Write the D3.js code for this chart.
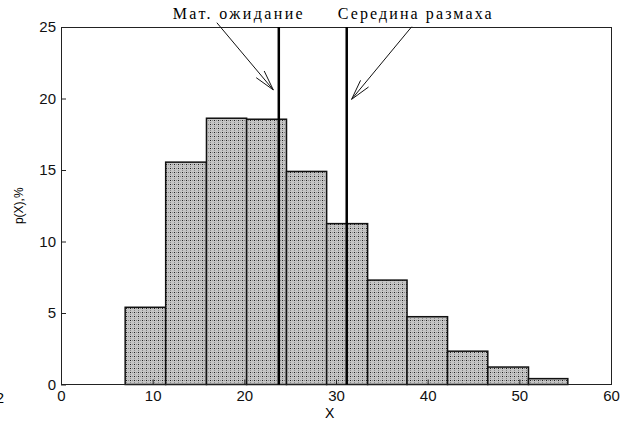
<!DOCTYPE html>
<html>
<head>
<meta charset="utf-8">
<script src="https://cdn.jsdelivr.net/npm/d3@7"></script>
<style>
  html, body { margin: 0; padding: 0; background: #fff; }
  svg { display: block; }
</style>
</head>
<body>
<div id="chart"></div>
<script>
// histogram bins (X values) and heights (p(X), %)
const binEdges = [7.0, 11.42, 15.87, 20.25, 24.6, 28.98, 33.45, 37.75, 42.17, 46.56, 51.0, 55.29]
const binValues = [5.4, 15.55, 18.62, 18.55, 14.9, 11.25, 7.3, 4.74, 2.33, 1.22, 0.41]

const xTicks = [0, 10, 20, 30, 40, 50, 60]
const yTicks = [0, 5, 10, 15, 20, 25]

// vertical marker lines
const markerNames = ["Мат. ожидание", "Середина размаха"]
const markerX = [23.76, 31.17]
// arrows: from (under the caption) to (near the line), in data units
const arrowFrom = [[17.0, 25.3], [38.26, 25.02]]
const arrowTo = [[23.16, 20.6], [31.7, 19.94]]

const width = 624, height = 423
const margin = ({top: 27, right: 13, bottom: 38.5, left: 61})

const svg = d3.select("#chart").append("svg")
    .attr("width", width).attr("height", height)

const x = d3.scaleLinear().domain([0, 60]).range([margin.left, width - margin.right])
const y = d3.scaleLinear().domain([0, 25]).range([height - margin.bottom, margin.top])

// dotted gray fill like the original
const defs = svg.append("defs")
const pat = defs.append("pattern")
    .attr("id", "dots").attr("patternUnits", "userSpaceOnUse")
    .attr("width", 4).attr("height", 4)
pat.append("rect").attr("width", 4).attr("height", 4).attr("fill", "#c4c4c4")
pat.append("rect").attr("x", 0).attr("y", 0).attr("width", 1).attr("height", 1).attr("fill", "#8a8a8a")
pat.append("rect").attr("x", 2).attr("y", 2).attr("width", 1).attr("height", 1).attr("fill", "#8a8a8a")
pat.append("rect").attr("x", 2).attr("y", 0).attr("width", 1).attr("height", 1).attr("fill", "#1e1e1e")

const bins = binValues.map((v, i) => ({x0: binEdges[i], x1: binEdges[i + 1], v}))

svg.append("g")
  .selectAll("rect")
  .data(bins)
  .join("rect")
    .attr("x", d => x(d.x0))
    .attr("y", d => y(d.v))
    .attr("width", d => x(d.x1) - x(d.x0))
    .attr("height", d => y(0) - y(d.v))
    .attr("fill", "url(#dots)")
    .attr("stroke", "#111")
    .attr("stroke-width", 1.5)

// frame
svg.append("rect")
    .attr("x", margin.left).attr("y", margin.top)
    .attr("width", x(60) - x(0)).attr("height", y(0) - y(25))
    .attr("fill", "none").attr("stroke", "#222").attr("stroke-width", 1)
    .attr("shape-rendering", "crispEdges")

// axes, ticks pointing inside
const xAxis = g => g
    .attr("transform", `translate(0,${y(0)})`)
    .call(d3.axisBottom(x).tickValues(xTicks).tickSize(-5).tickPadding(6))
    .call(g => g.select(".domain").remove())

const yAxis = g => g
    .attr("transform", `translate(${margin.left},0)`)
    .call(d3.axisLeft(y).tickValues(yTicks).tickSize(-5).tickPadding(5))
    .call(g => g.select(".domain").remove())

svg.append("g").call(xAxis)
svg.append("g").call(yAxis)

svg.selectAll(".tick text")
    .attr("font-family", "'Liberation Sans', Arial, sans-serif")
    .attr("font-size", 15)
    .attr("fill", "#111")
svg.selectAll(".tick line").attr("stroke", "#222")

// axis labels
svg.append("text")
    .attr("x", x(29.3)).attr("y", 418)
    .attr("text-anchor", "middle")
    .attr("font-family", "'Liberation Sans', Arial, sans-serif")
    .attr("font-size", 14)
    .text("X")

svg.append("text")
    .attr("transform", `translate(23,${(y(0) + y(25)) / 2}) rotate(-90)`)
    .attr("text-anchor", "middle")
    .attr("font-family", "'Liberation Sans', Arial, sans-serif")
    .attr("font-size", 12)
    .text("p(X),%")

// label cut off at the far left edge, as in the original
svg.append("text")
    .attr("x", 4).attr("y", 403)
    .attr("text-anchor", "end")
    .attr("font-family", "'Liberation Sans', Arial, sans-serif")
    .attr("font-size", 15)
    .text("2")

// marker lines
svg.append("g")
  .selectAll("line")
  .data(markerX)
  .join("line")
    .attr("x1", d => x(d)).attr("x2", d => x(d))
    .attr("y1", y(25)).attr("y2", y(0))
    .attr("stroke", "#000").attr("stroke-width", 2.5)

// captions above the plot
const capStart = [172.7, 337.7]
const capLen = [130, 154]
svg.append("g")
  .selectAll("text")
  .data(markerNames)
  .join("text")
    .attr("x", (d, i) => capStart[i]).attr("y", 19)
    .attr("textLength", (d, i) => capLen[i])
    .attr("lengthAdjust", "spacing")
    .attr("font-family", "'Liberation Serif', 'Times New Roman', serif")
    .attr("font-size", 16)
    .text(d => d)

// arrows with open heads
const arrows = svg.append("g").attr("stroke", "#111").attr("stroke-width", 1).attr("fill", "none")
arrowFrom.forEach((f, i) => {
    const x0 = x(f[0]), y0 = y(f[1])
    const x1 = x(arrowTo[i][0]), y1 = y(arrowTo[i][1])
    arrows.append("line").attr("x1", x0).attr("y1", y0).attr("x2", x1).attr("y2", y1)
    const ang = Math.atan2(y0 - y1, x0 - x1)
    const len = 21, spread = 0.25
    ;[-spread, spread].forEach(s => {
        arrows.append("line")
            .attr("x1", x1).attr("y1", y1)
            .attr("x2", x1 + len * Math.cos(ang + s))
            .attr("y2", y1 + len * Math.sin(ang + s))
    })
})
</script>
</body>
</html>
